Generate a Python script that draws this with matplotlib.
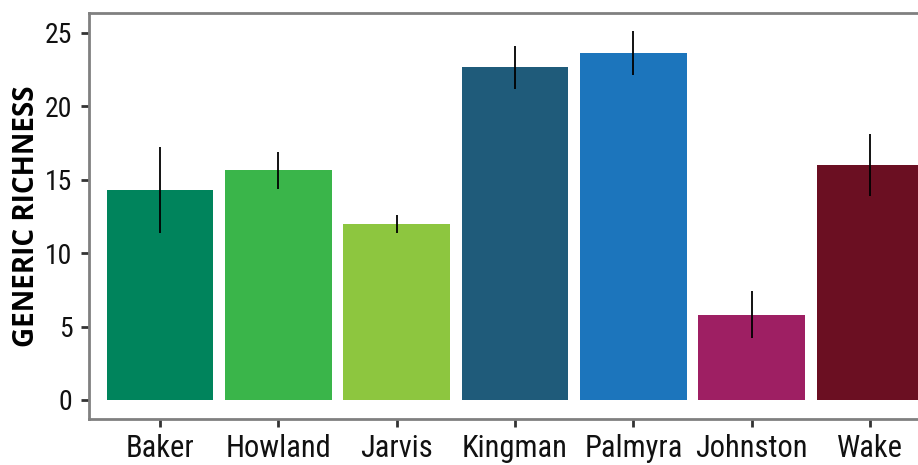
import matplotlib
matplotlib.use("Agg")
import matplotlib.pyplot as plt

islands = ["Baker", "Howland", "Jarvis", "Kingman", "Palmyra", "Johnston", "Wake"]
richness = [14.3, 15.65, 12.0, 22.65, 23.65, 5.8, 16.0]
err = [2.9, 1.25, 0.6, 1.45, 1.5, 1.6, 2.1]
colors = ["#00845c", "#3ab54a", "#8dc63f", "#1f5b7a", "#1c75bc", "#9e1f63", "#6b0f22"]

fig = plt.figure(figsize=(9.18, 4.65), dpi=100)
ax = fig.add_axes([89 / 918, 46 / 465, 852 / 918, 406 / 465])

pos = list(range(1, len(islands) + 1))
ax.bar(pos, richness, width=0.9, color=colors)
ax.errorbar(pos, richness, yerr=err, fmt="none", ecolor="black", elinewidth=1.3, capsize=0)

ax.set_xlim(0.4, 7.6)
ax.set_ylim(-1.3, 26.36)
ax.set_xticks(pos)
ax.set_xticklabels(islands)
ax.set_yticks([0, 5, 10, 15, 20, 25])

# grey frame, dark ticks
for s in ["left", "top", "bottom", "right"]:
    ax.spines[s].set_color("#808080")
    ax.spines[s].set_linewidth(2)
ax.tick_params(axis="both", length=6, width=2, color="#333333")
ax.tick_params(axis="x", labelsize=22, pad=5)
ax.tick_params(axis="y", labelsize=20, pad=6)
for lab in ax.get_xticklabels() + ax.get_yticklabels():
    lab.set_fontfamily(["Roboto Condensed", "DejaVu Sans"])
    lab.set_color("#111111")

ax.set_ylabel("GENERIC RICHNESS", fontsize=20, fontweight="bold", fontstretch="condensed",
              fontfamily=["Open Sans", "DejaVu Sans"], labelpad=3)

fig.savefig("out.png", dpi=100)
